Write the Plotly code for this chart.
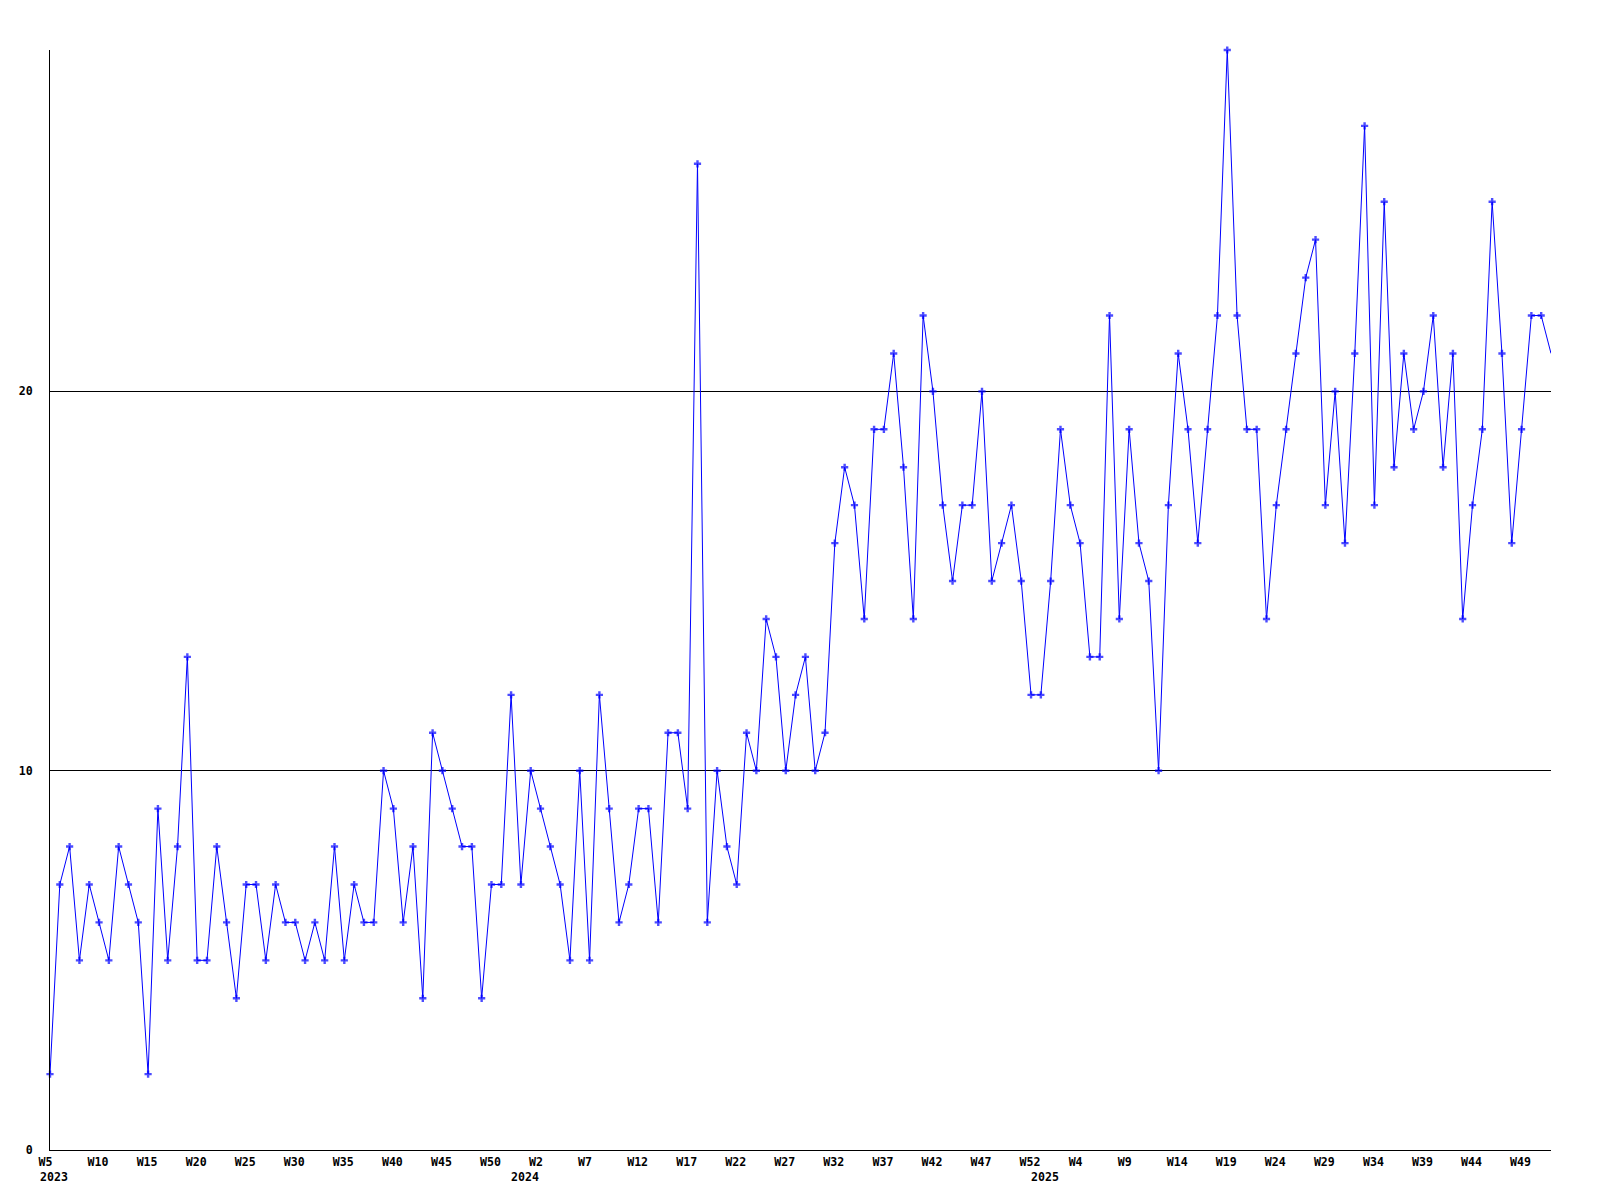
import plotly.graph_objects as go

# Weekly counts (week numbering as shown on the chart's axis)
years = [2023, 2024, 2025]
first_week = {2023: 5, 2024: 0, 2025: 0}
counts_2023 = [2, 7, 8, 5, 7, 6, 5, 8, 7, 6, 2, 9, 5, 8, 13, 5, 5, 8, 6, 4,
               7, 7, 5, 7, 6, 6, 5, 6, 5, 8, 5, 7, 6, 6, 10, 9, 6, 8, 4, 11,
               10, 9, 8, 8, 4, 7, 7, 12]
counts_2024 = [7, 10, 9, 8, 7, 5, 10, 5, 12, 9, 6, 7, 9, 9, 6, 11, 11, 9, 26, 6,
               10, 8, 7, 11, 10, 14, 13, 10, 12, 13, 10, 11, 16, 18, 17, 14, 19, 19, 21, 18,
               14, 22, 20, 17, 15, 17, 17, 20, 15, 16, 17, 15, 12]
counts_2025 = [12, 15, 19, 17, 16, 13, 13, 22, 14, 19, 16, 15, 10, 17, 21, 19, 16, 19, 22, 29,
               22, 19, 19, 14, 17, 19, 21, 23, 24, 17, 20, 16, 21, 27, 17, 25, 18, 21, 19, 20,
               22, 18, 21, 14, 17, 19, 25, 21, 16, 19, 22, 22, 21]
y_ticks = [0, 10, 20]

series = {2023: counts_2023, 2024: counts_2024, 2025: counts_2025}
cats, vals, week_nums = [], [], []
for yr in years:
    for i, v in enumerate(series[yr]):
        wk = first_week[yr] + i
        cats.append(f"{yr} W{wk}")
        week_nums.append(wk)
        vals.append(v)

n = len(vals)
tick_idx = list(range(0, n, 5))
tickvals = [cats[i] for i in tick_idx]
ticktext = []
for i in tick_idx:
    t = f"W{week_nums[i]}"
    if len(t) < 3:
        t = t + "\u00a0" * (3 - len(t))
    ticktext.append(t)

marker_sizes = [6] * (n - 1) + [0]

FONT = dict(family="DejaVu Sans Mono", size=11.6, color="black", weight="bold")

fig = go.Figure()
fig.add_trace(go.Scatter(
    x=cats, y=vals, mode="lines+markers",
    line=dict(color="#0000ff", width=1),
    marker=dict(symbol="cross", size=marker_sizes, color="#0000ff", line=dict(width=0)),
    cliponaxis=False,
    showlegend=False, hoverinfo="x+y",
))

year_first = {yr: f"{yr} W{first_week[yr]}" for yr in years}
for yr in years:
    fig.add_annotation(
        x=year_first[yr], xref="x", y=0, yref="paper",
        text=str(yr), showarrow=False, xanchor="left", yanchor="top",
        xshift=-12, yshift=-18, font=FONT,
    )

fig.update_layout(
    width=1600, height=1200,
    margin=dict(l=50, r=49, t=50, b=50),
    paper_bgcolor="white", plot_bgcolor="white",
    showlegend=False,
)
fig.update_xaxes(
    type="category", categoryorder="array", categoryarray=cats,
    range=[0, n - 1], showgrid=False, zeroline=False,
    showline=True, linecolor="black", linewidth=1,
    tickmode="array", tickvals=tickvals, ticktext=ticktext,
    ticks="", tickangle=0, tickfont=FONT,
    ticklabelshift=-1, ticklabelstandoff=1,
)
fig.update_yaxes(
    range=[0, 29], showgrid=True, gridcolor="black", gridwidth=1,
    zeroline=False, showline=True, linecolor="black", linewidth=1,
    tickmode="array", tickvals=y_ticks, ticktext=[str(t) for t in y_ticks],
    ticks="", tickfont=FONT, ticklabelstandoff=14,
)

fig.write_html("out.html", config={"displayModeBar": False},
               post_script="document.body.style.margin='0';")
